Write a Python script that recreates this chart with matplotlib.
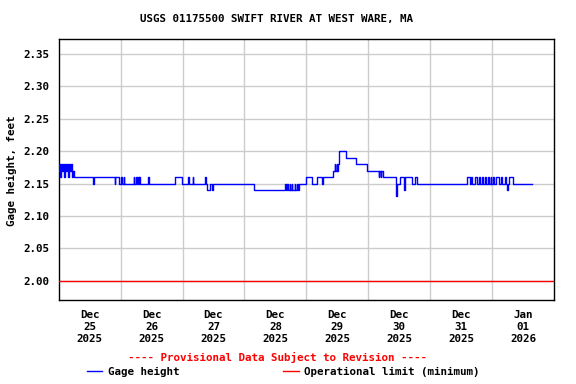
import matplotlib
matplotlib.use("Agg")
import matplotlib.pyplot as plt
import matplotlib.dates as mdates
from matplotlib.lines import Line2D
import pandas as pd

title = "USGS 01175500 SWIFT RIVER AT WEST WARE, MA"
start = pd.Timestamp("2025-12-25 00:00")
end = pd.Timestamp("2026-01-02 00:00")
day_labels = ["Dec\n25\n2025", "Dec\n26\n2025", "Dec\n27\n2025", "Dec\n28\n2025",
              "Dec\n29\n2025", "Dec\n30\n2025", "Dec\n31\n2025", "Jan\n01\n2026"]
y_ticks = [2.00, 2.05, 2.10, 2.15, 2.20, 2.25, 2.30, 2.35]
op_limit = 2.00

# Gage height step changes: hours after 2025-12-25 00:00, value (ft)
hours = [0, 0.25, 0.5, 1.0, 1.25, 1.75, 2.0, 2.5, 2.75, 3.25, 3.5, 4.0, 4.25, 4.75, 5.0, 5.5, 6.0,
         13.25, 13.75, 21.75, 22.0, 23.5, 24.25, 24.5, 25.25, 25.5,
         29.0, 29.25, 30.0, 30.25, 30.75, 31.0, 31.25, 31.5, 34.75, 35.0,
         45.0, 47.75, 50.25, 50.5, 52.0, 52.25, 56.75, 57.0, 57.5, 58.5, 59.5, 59.75,
         75.75, 87.75, 88.0, 88.5, 88.75, 89.5, 89.75, 90.25, 90.5, 91.5, 91.75, 92.5, 92.75, 93.25,
         95.75, 98.25, 100.25, 102.0, 102.5, 106.25, 107.0, 107.25, 107.75, 108.0, 108.25, 108.5,
         108.75, 111.25, 115.25, 119.5, 124.0, 124.25, 124.75, 125.0, 125.75,
         130.75, 131.0, 132.25, 133.75, 134.0, 134.25, 137.0, 138.25, 138.75,
         158.25, 159.25, 160.0, 160.25, 161.25, 162.0, 163.0, 163.25, 164.25, 164.5, 165.25, 165.5,
         166.5, 166.75, 167.5, 167.75, 168.5, 168.75, 169.5, 170.75, 171.5, 171.75, 173.0, 173.25,
         173.75, 174.0, 174.75, 176.0, 183.5]
heights = [2.17, 2.18, 2.16, 2.18, 2.17, 2.18, 2.16, 2.18, 2.17, 2.18, 2.16, 2.18, 2.17, 2.18, 2.16, 2.17, 2.16,
           2.15, 2.16, 2.15, 2.16, 2.15, 2.16, 2.15, 2.16, 2.15,
           2.16, 2.15, 2.16, 2.15, 2.16, 2.15, 2.16, 2.15, 2.16, 2.15,
           2.16, 2.15, 2.16, 2.15, 2.16, 2.15, 2.16, 2.15, 2.14, 2.15, 2.14, 2.15,
           2.14, 2.15, 2.14, 2.15, 2.14, 2.15, 2.14, 2.15, 2.14, 2.15, 2.14, 2.15, 2.14, 2.15,
           2.16, 2.15, 2.16, 2.15, 2.16, 2.17, 2.18, 2.17, 2.18, 2.17, 2.18, 2.19,
           2.20, 2.19, 2.18, 2.17, 2.16, 2.17, 2.16, 2.17, 2.16,
           2.13, 2.15, 2.16, 2.15, 2.14, 2.16, 2.15, 2.16, 2.15,
           2.16, 2.15, 2.16, 2.15, 2.16, 2.15, 2.16, 2.15, 2.16, 2.15, 2.16, 2.15,
           2.16, 2.15, 2.16, 2.15, 2.16, 2.15, 2.16, 2.15, 2.16, 2.15, 2.16, 2.15,
           2.14, 2.15, 2.16, 2.15, 2.15]

times = [start + pd.Timedelta(hours=h) for h in hours]

FONT = "DejaVu Sans Mono"
FS = 7.8
plt.rcParams["font.family"] = FONT
plt.rcParams["font.weight"] = "bold"

fig = plt.figure(figsize=(5.76, 3.84), dpi=100)
ax = fig.add_axes([0.1019, 0.2188, 0.9618 - 0.1019, 0.8977 - 0.2188])

ax.plot(times, heights, drawstyle="steps-post", color="#0000ff", lw=1.0, zorder=3)
ax.axhline(op_limit, color="#ff0000", lw=1.0, zorder=3)

ax.set_xlim(start, end)
ax.set_ylim(1.9702, 2.3727)
ax.set_yticks(y_ticks)
ax.set_yticklabels([f"{v:.2f}" for v in y_ticks], fontsize=FS, fontweight="bold")

midnights = [start + pd.Timedelta(days=d) for d in range(1, 8)]
noons = [start + pd.Timedelta(hours=12 + 24 * d) for d in range(8)]
ax.set_xticks(midnights)
ax.set_xticklabels([""] * len(midnights))
ax.set_xticks(noons, minor=True)
ax.set_xticklabels(day_labels, minor=True, fontsize=FS, fontweight="bold", linespacing=1.25)
ax.tick_params(axis="x", which="both", length=0, pad=7)
ax.tick_params(axis="y", length=0, pad=7)
ax.grid(True, which="major", color="#cccccc", lw=1.0, zorder=0)
for s in ax.spines.values():
    s.set_color("black")
    s.set_linewidth(1.0)

fig.text(0.4805, 0.950, title, ha="center", va="center", fontsize=FS, fontweight="bold")
fig.text(0.021, 0.555, "Gage height, feet", rotation=90, ha="center", va="center",
         fontsize=FS, fontweight="bold")
fig.text(0.481, 0.068, "---- Provisional Data Subject to Revision ----", ha="center", va="center",
         fontsize=FS, fontweight="bold", color="#ff0000")

handles = [Line2D([], [], color="#0000ff", lw=1.0), Line2D([], [], color="#ff0000", lw=1.0)]
fig.legend(handles, ["Gage height", "Operational limit (minimum)"], loc="center",
           bbox_to_anchor=(0.492, 0.031), ncol=2, frameon=False, fontsize=FS,
           handlelength=1.4, handletextpad=0.5, columnspacing=9.6, borderpad=0, borderaxespad=0)

fig.savefig("out.png", dpi=100)
